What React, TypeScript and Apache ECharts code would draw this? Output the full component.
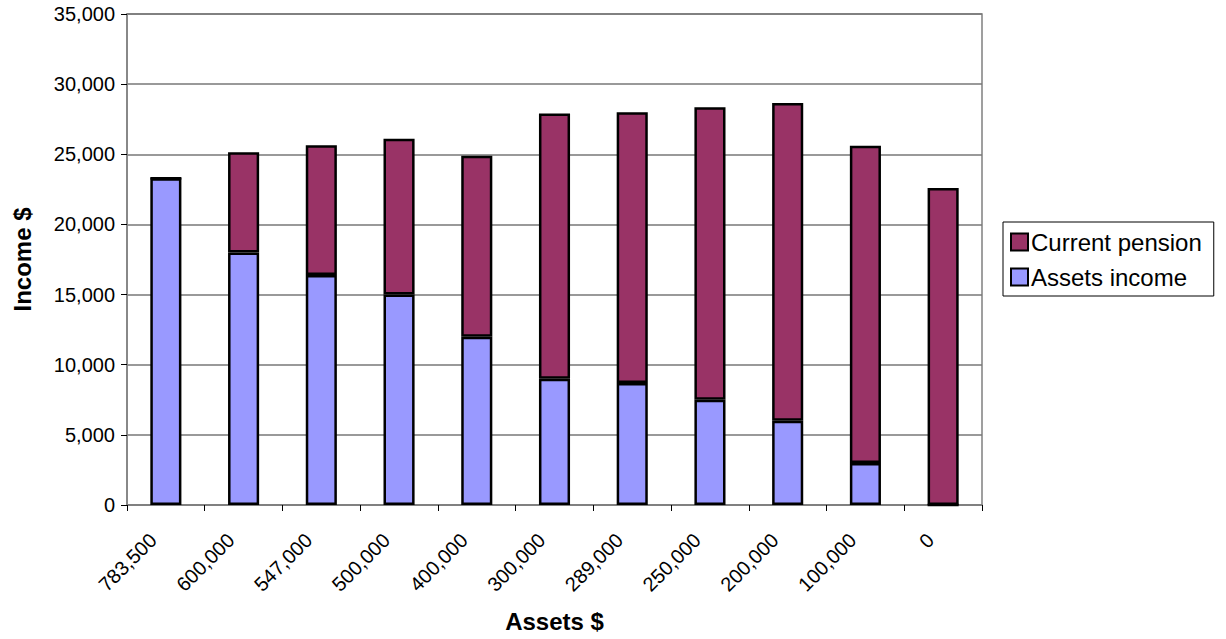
import React, { useEffect, useRef } from "react";
import * as echarts from "echarts";

const categories = ["783,500", "600,000", "547,000", "500,000", "400,000", "300,000", "289,000", "250,000", "200,000", "100,000", "0"];
const assetsIncome = [23300, 18000, 16400, 15000, 12000, 9000, 8700, 7500, 6000, 3000, 0];
const currentPension = [0, 7150, 9250, 11100, 12900, 18900, 19300, 20850, 22650, 22600, 22600];
const yTicks = { min: 0, max: 35000, interval: 5000 };

export default function App() {
  const ref = useRef<HTMLDivElement>(null);
  useEffect(() => {
    if (!ref.current) return;
    const chart = echarts.init(ref.current, undefined, { renderer: "svg" });
    const font = "'Liberation Sans', Arial, sans-serif";
    chart.setOption({
      animation: false,
      backgroundColor: "#ffffff",
      textStyle: { fontFamily: font },
      grid: {
        left: 127,
        top: 14,
        right: 244,
        bottom: 134,
        show: true,
        borderColor: "#808080",
        borderWidth: 1.5,
        backgroundColor: "#ffffff",
      },
      legend: {
        data: ["Current pension", "Assets income"],
        orient: "vertical",
        left: 1003,
        top: 222,
        padding: [8, 12, 7, 7],
        itemGap: 11,
        itemWidth: 17,
        itemHeight: 17,
        borderColor: "#000000",
        borderWidth: 1,
        backgroundColor: "#ffffff",
        icon: "rect",
        itemStyle: { borderColor: "#000000", borderWidth: 2 },
        textStyle: { fontSize: 24, color: "#000000", fontFamily: font, padding: [0, 0, 0, -2] },
      },
      xAxis: {
        type: "category",
        data: categories,
        name: "Assets $",
        nameLocation: "middle",
        nameGap: 104,
        nameTextStyle: { fontSize: 24, fontWeight: "bold", color: "#000000", fontFamily: font },
        axisLine: { lineStyle: { color: "#808080", width: 1.5 } },
        axisTick: { show: true, length: 6, lineStyle: { color: "#000000", width: 1 } },
        axisLabel: {
          rotate: 45,
          fontSize: 20,
          color: "#000000",
          margin: 19,
          padding: [0, 18, 0, 0],
          fontFamily: font,
          interval: 0,
        },
      },
      yAxis: {
        type: "value",
        min: yTicks.min,
        max: yTicks.max,
        interval: yTicks.interval,
        name: "Income $",
        nameLocation: "middle",
        nameGap: 93,
        nameTextStyle: { fontSize: 24, fontWeight: "bold", color: "#000000", fontFamily: font },
        axisLine: { show: true, lineStyle: { color: "#808080", width: 1.5 } },
        axisTick: { show: true, length: 6, lineStyle: { color: "#000000", width: 1 } },
        axisLabel: {
          fontSize: 20,
          color: "#000000",
          margin: 12,
          fontFamily: font,
          formatter: (v: number) => v.toLocaleString("en-US"),
        },
        splitLine: { show: true, lineStyle: { color: "#777777", width: 1.5 } },
      },
      series: [
        {
          name: "Assets income",
          type: "bar",
          stack: "total",
          data: assetsIncome,
          barWidth: "40%",
          itemStyle: { color: "#9999FF", borderColor: "#000000", borderWidth: 2.5 },
        },
        {
          name: "Current pension",
          type: "bar",
          stack: "total",
          data: currentPension,
          barWidth: "40%",
          itemStyle: { color: "#993366", borderColor: "#000000", borderWidth: 2.5 },
        },
      ],
    });
    return () => chart.dispose();
  }, []);
  return <div ref={ref} style={{ position: "fixed", left: 0, top: 0, width: 1226, height: 639 }} />;
}
